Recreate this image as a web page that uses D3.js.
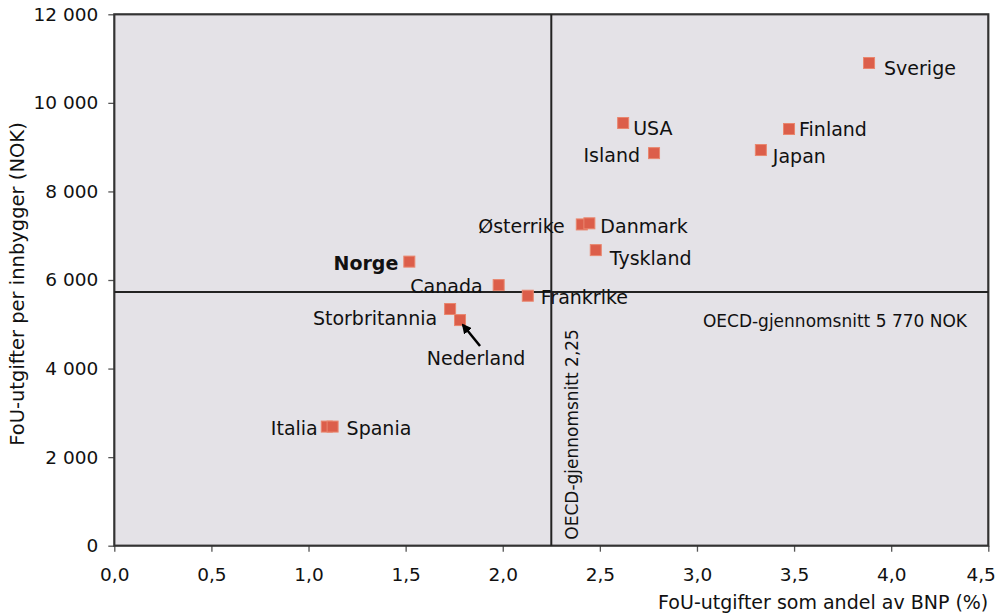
<!DOCTYPE html>
<html><head><meta charset="utf-8">
<script src="https://cdn.jsdelivr.net/npm/d3@7"></script>
<style>
body{margin:0;background:#fff;}
text{font-family:"DejaVu Sans",Verdana,sans-serif;fill:#111;}
</style></head>
<body>
<svg id="c" width="1001" height="614"></svg>
<script>
const countries = ["Sverige","Finland","Japan","USA","Island","Østerrike","Danmark","Tyskland","Norge","Canada","Frankrike","Storbritannia","Nederland","Italia","Spania"];
const bnpShare  = [3.886,3.474,3.329,2.620,2.779,2.407,2.446,2.479,1.519,1.979,2.129,1.729,1.780,1.094,1.124];
const perCapita = [10900,9410,8935,9545,8865,7255,7280,6675,6415,5885,5645,5345,5095,2690,2690];
const xTicks = [0,0.5,1,1.5,2,2.5,3,3.5,4,4.5];
const yTicks = [0,2000,4000,6000,8000,10000,12000];
const oecdShare = 2.25;
const oecdPerCapitaLine = 5730;
const oecdShareLabel = "OECD-gjennomsnitt 2,25";
const oecdPerCapitaLabel = "OECD-gjennomsnitt 5 770 NOK";
const xTitle = "FoU-utgifter som andel av BNP (%)";
const yTitle = "FoU-utgifter per innbygger (NOK)";

// label placement (pixel offsets from point, anchor)
const labelPlace = {
  "Sverige":[15,5,"start"], "Finland":[10,0,"start"], "Japan":[12,6,"start"],
  "USA":[10,5,"start"], "Island":[-14,2,"end"], "Østerrike":[-17,2,"end"],
  "Danmark":[11,3,"start"], "Tyskland":[14,8,"start"], "Norge":[-11,2,"end"],
  "Canada":[-16,1,"end"], "Frankrike":[13,2,"start"], "Storbritannia":[-13,9,"end"],
  "Nederland":[16,38,"middle"], "Italia":[-9,2,"end"], "Spania":[14,2,"start"]
};

const svg = d3.select("#c");
const L=114.3, R=988.3, T=14.3, B=545.7;
const x = d3.scaleLinear().domain([0,4.5]).range([L,R]);
const y = d3.scaleLinear().domain([0,12000]).range([B,T]);
const fmtX = d => d3.format(".1f")(d).replace(".",",");
const fmtY = d => d3.format(",")(d).replace(/,/g," ");

svg.append("rect").attr("x",L).attr("y",T).attr("width",R-L).attr("height",B-T)
  .attr("fill","#e4e2e7");

const xAxis = svg.append("g").attr("transform",`translate(0,${B})`)
  .call(d3.axisBottom(x).tickValues(xTicks).tickFormat(fmtX).tickSize(6).tickSizeOuter(0));
const yAxis = svg.append("g").attr("transform",`translate(${L},0)`)
  .call(d3.axisLeft(y).tickValues(yTicks).tickFormat(fmtY).tickSize(6).tickSizeOuter(0));
[xAxis,yAxis].forEach(a=>{
  a.select(".domain").remove();
  a.selectAll("line").attr("stroke","#555").attr("stroke-width",1.3);
  a.selectAll("text").style("font-family","'DejaVu Sans',Verdana,sans-serif").style("font-size","18.5px").attr("fill","#111");
});
xAxis.selectAll("text").attr("dy","1.4em");
xAxis.selectAll(".tick").filter(d=>d===4.5).select("text").attr("text-anchor","end").attr("x",7);
yAxis.selectAll("text").attr("dx","-7px");

svg.append("rect").attr("x",L).attr("y",T).attr("width",R-L).attr("height",B-T)
  .attr("fill","none").attr("stroke","#333").attr("stroke-width",2.2);

// OECD lines
svg.append("line").attr("x1",x(oecdShare)).attr("x2",x(oecdShare)).attr("y1",T).attr("y2",B)
  .attr("stroke","#222").attr("stroke-width",2);
svg.append("line").attr("x1",L).attr("x2",R).attr("y1",y(oecdPerCapitaLine)).attr("y2",y(oecdPerCapitaLine))
  .attr("stroke","#222").attr("stroke-width",2);

svg.append("text").attr("x",967).attr("y",y(oecdPerCapitaLine)+35)
  .attr("text-anchor","end").style("font-size","17px").text(oecdPerCapitaLabel);
svg.append("text").attr("transform",`translate(${x(oecdShare)+27},${B-6}) rotate(-90)`)
  .attr("text-anchor","start").style("font-size","17px").text(oecdShareLabel);

// points
const data = countries.map((c,i)=>({c, xv:bnpShare[i], yv:perCapita[i]}));
const s = 11;
svg.append("g").selectAll("rect").data(data).join("rect")
  .attr("x",d=>x(d.xv)-s/2).attr("y",d=>y(d.yv)-s/2).attr("width",s).attr("height",s)
  .attr("fill","#dc5e4a").attr("stroke","#e9876f").attr("stroke-width",1);

svg.append("g").selectAll("text").data(data).join("text")
  .attr("x",d=>x(d.xv)+labelPlace[d.c][0])
  .attr("y",d=>y(d.yv)+labelPlace[d.c][1])
  .attr("dy","0.35em")
  .attr("text-anchor",d=>labelPlace[d.c][2])
  .style("font-size","19px")
  .style("font-weight",d=>d.c==="Norge"?"bold":"normal")
  .text(d=>d.c);

// arrow to Nederland
const nl = data.find(d=>d.c==="Nederland");
const hx = x(nl.xv)+3, hy = y(nl.yv)+5;
const tx = hx+17, ty = hy+21;
svg.append("defs").append("marker").attr("id","ah").attr("viewBox","0 0 10 10")
  .attr("refX",8).attr("refY",5).attr("markerWidth",4).attr("markerHeight",4).attr("orient","auto")
  .append("path").attr("d","M0,0L10,5L0,10z").attr("fill","#000");
svg.append("line").attr("x1",tx).attr("y1",ty).attr("x2",hx).attr("y2",hy)
  .attr("stroke","#000").attr("stroke-width",2.5).attr("marker-end","url(#ah)");

// axis titles
svg.append("text").attr("x",R).attr("y",609).attr("text-anchor","end")
  .style("font-size","19px").text(xTitle);
svg.append("text").attr("transform",`translate(24,284) rotate(-90)`).attr("text-anchor","middle")
  .style("font-size","19.5px").text(yTitle);
</script>
</body></html>
